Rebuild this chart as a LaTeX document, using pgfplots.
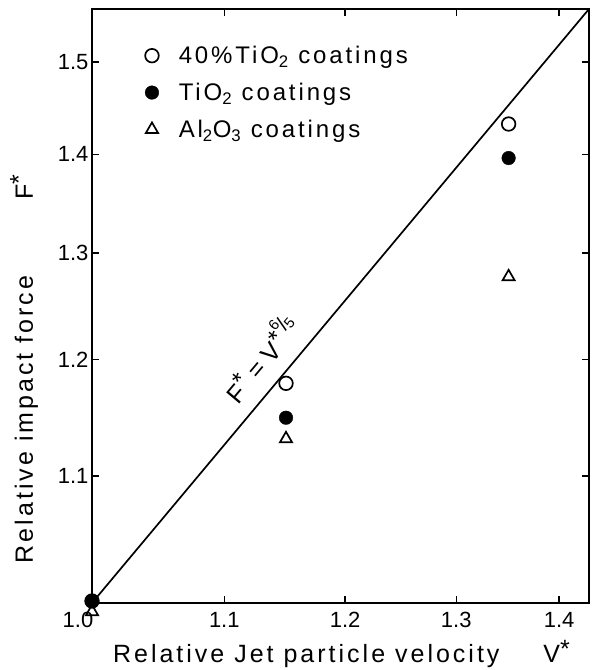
\documentclass[border=0pt]{standalone}
\usepackage{fontspec}
\setmainfont{Liberation Sans}
\newfontfamily\lsfont{Liberation Sans}[LetterSpace=12]
\usepackage{pgfplots}
\pgfplotsset{compat=1.18}
\newcommand\sast{\raisebox{0.22em}{*}}
\begin{document}
\begin{tikzpicture}
\path[use as bounding box] (-92bp,-67bp) rectangle (503bp,603bp);
\begin{axis}[
  scale only axis, width=497bp, height=594bp,
  xmode=log, ymode=log,
  xmin=1.0, xmax=1.4305, ymin=1.0, ymax=1.561,
  xtick={1.1,1.2,1.3,1.4}, xticklabels={1.1,1.2,1.3,1.4},
  ytick={1.1,1.2,1.3,1.4,1.5}, yticklabels={1.1,1.2,1.3,1.4,1.5},
  extra x ticks={1.0}, extra x tick labels={1.0},
  extra x tick style={major tick length=0pt, xticklabel style={xshift=-14bp}},
  minor tick num=0,
  tick align=inside, major tick length=7bp,
  axis line style={line width=1.8bp},
  every tick/.style={line width=1.3bp, black},
  tick label style={font=\fontsize{22bp}{26bp}\selectfont},
  xticklabel style={yshift=-6bp},
  clip=false,
  xlabel={Relative Jet particle velocity\hspace{44bp}V\sast},
  ylabel={Relative impact force\hspace{76bp}F\sast},
  label style={font=\lsfont\fontsize{25bp}{30bp}\selectfont},
  xlabel style={at={(axis description cs:0.502,-0.101)}, anchor=base},
  ylabel style={at={(axis description cs:-0.119,0.394)}, anchor=base},
  legend style={draw=none, fill=none, at={(axis description cs:0.1066,0.941)}, anchor=north west,
    inner sep=0pt, row sep=14bp, font=\lsfont\fontsize{24bp}{28bp}\selectfont,
    /tikz/every odd column/.append style={column sep=18bp}},
  legend cell align=left,
]
\addplot[only marks, mark=o, mark size=6.8bp, line width=1.7bp] coordinates {
  (1.0,1.0015) (1.15,1.179) (1.35,1.432)};
\addlegendentry{40\%TiO\textsubscript{2} coatings}
\addplot[only marks, mark=*, mark size=6.8bp, fill=black] coordinates {
  (1.0,1.0015) (1.15,1.149) (1.35,1.396)};
\addlegendentry{TiO\textsubscript{2} coatings}
\addplot[only marks, mark=triangle, mark size=7bp, line width=1.7bp] coordinates {
  (1.0,0.9935) (1.15,1.131) (1.35,1.277)};
\addlegendentry{Al\textsubscript{2}O\textsubscript{3} coatings}
\addplot[black, line width=1.7bp, no marks, forget plot] coordinates {(1.0,1.0) (1.4305,1.561)};
\node[rotate=50, font=\fontsize{25bp}{30bp}\selectfont] at (axis cs:1.128,1.202)
  {F\sast{} = V\sast\raisebox{0.45em}{\fontsize{21bp}{21bp}\selectfont\textsuperscript{6}\kern-1.5bp/\kern-1.5bp\textsubscript{5}}};
\end{axis}
\end{tikzpicture}
\end{document}
